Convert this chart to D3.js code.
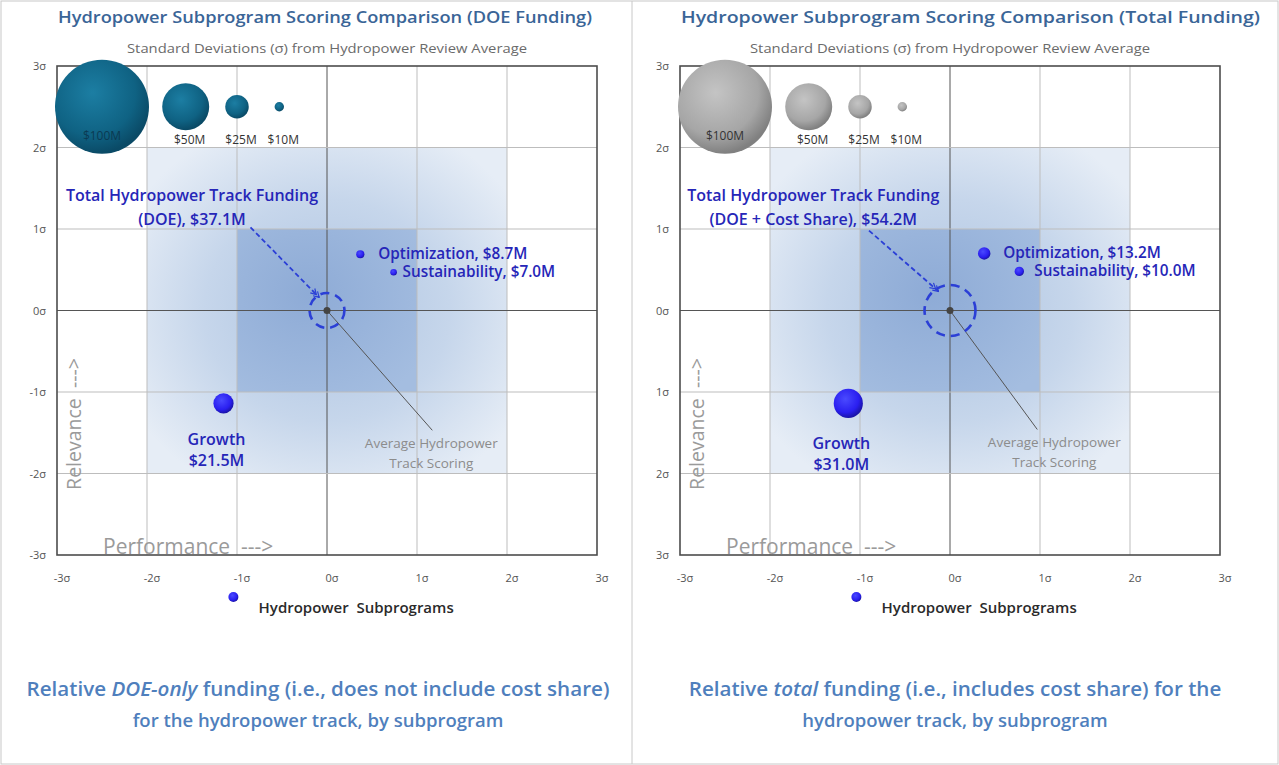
<!DOCTYPE html>
<html>
<head>
<meta charset="utf-8">
<title>Hydropower Subprogram Scoring Comparison</title>
<style>
  body { margin: 0; background: #fff; }
  svg { display: block; font-family: "Open Sans", Lato, sans-serif; }
</style>
</head>
<body>
<svg id="chart" width="1279" height="765"></svg>
<script src="https://d3js.org/d3.v7.min.js"></script>
<script>
// ---- data ----
const sigmaTicks = [-3, -2, -1, 0, 1, 2, 3];
const xTickLabels = ["-3σ", "-2σ", "-1σ", "0σ", "1σ", "2σ", "3σ"];
const yTickLabelsDoe = ["-3σ", "-2σ", "-1σ", "0σ", "1σ", "2σ", "3σ"];
const yTickLabelsTotal = ["3σ", "2σ", "1σ", "0σ", "1σ", "2σ", "3σ"];

const subprograms = ["Optimization", "Sustainability", "Growth"];

const doePerformance = [0.37, 0.74, -1.15];
const doeRelevance = [0.69, 0.47, -1.14];
const doeFunding = [8.7, 7.0, 21.5];
const doeFundingLabels = ["$8.7M", "$7.0M", "$21.5M"];
const doeTrackFunding = 37.1;

const totalPerformance = [0.38, 0.77, -1.13];
const totalRelevance = [0.70, 0.48, -1.14];
const totalFunding = [13.2, 10.0, 31.0];
const totalFundingLabels = ["$13.2M", "$10.0M", "$31.0M"];
const totalTrackFunding = 54.2;

const sizeLegendValues = [100, 50, 25, 10];
const sizeLegendLabels = ["$100M", "$50M", "$25M", "$10M"];
const sizeLegendX = [-2.5, -1.57, -1.0, -0.53];
const sizeLegendY = 2.5;

const svg = d3.select("#chart");
const defs = svg.append("defs");

// bubble gradients
function radial(id, stops) {
  const g = defs.append("radialGradient").attr("id", id)
    .attr("cx", "40%").attr("cy", "35%").attr("r", "65%");
  stops.forEach(([o, c]) => g.append("stop").attr("offset", o).attr("stop-color", c));
}
radial("tealBubble", [["0%", "#1c7ea3"], ["70%", "#0f6283"], ["100%", "#0a4a66"]]);
radial("grayBubble", [["0%", "#c4c4c4"], ["70%", "#a6a6a6"], ["100%", "#808080"]]);
radial("blueBubble", [["0%", "#4a4aff"], ["70%", "#2a1ff0"], ["100%", "#1a14a8"]]);

const outerShade = defs.append("radialGradient").attr("id", "outerShade")
  .attr("cx", "50%").attr("cy", "50%").attr("r", "62%");
outerShade.append("stop").attr("offset", "0%").attr("stop-color", "#aec4e1");
outerShade.append("stop").attr("offset", "55%").attr("stop-color", "#c6d6eb");
outerShade.append("stop").attr("offset", "100%").attr("stop-color", "#e6edf6");

const innerShade = defs.append("radialGradient").attr("id", "innerShade")
  .attr("cx", "40%").attr("cy", "40%").attr("r", "75%");
innerShade.append("stop").attr("offset", "0%").attr("stop-color", "#8eabd6");
innerShade.append("stop").attr("offset", "100%").attr("stop-color", "#a4bde0");

defs.append("marker").attr("id", "arrowHead")
  .attr("viewBox", "0 0 14 10").attr("refX", 13).attr("refY", 5)
  .attr("markerWidth", 11).attr("markerHeight", 8)
  .attr("orient", "auto").attr("markerUnits", "userSpaceOnUse")
  .append("path").attr("d", "M1,1 L8,5 L1,9 M6,1 L13,5 L6,9")
  .attr("fill", "none").attr("stroke", "#2b3fd6").attr("stroke-width", 1.5);

// outer frame + divider
svg.append("rect").attr("x", 1).attr("y", 1).attr("width", 1277).attr("height", 763)
  .attr("fill", "none").attr("stroke", "#c8c8c8");
svg.append("line").attr("x1", 632).attr("x2", 632).attr("y1", 1).attr("y2", 764)
  .attr("stroke", "#c8c8c8");

const labelBlue = "#2626b8";

function drawPanel(p) {
  const x = d3.scaleLinear().domain([-3, 3]).range([p.left, p.left + 540]);
  const y = d3.scaleLinear().domain([-3, 3]).range([555, 66]);
  const r = d3.scaleLinear().domain([0, 100]).range([0, 47]);
  const g = svg.append("g");

  // titles
  g.append("text").attr("x", p.left + 1).attr("y", 23)
    .attr("font-size", 17).attr("font-weight", 600).attr("fill", "#3a6597")
    .attr("textLength", p.titleWidth).attr("lengthAdjust", "spacingAndGlyphs")
    .text(p.title);
  g.append("text").attr("x", x(0)).attr("y", 53).attr("text-anchor", "middle")
    .attr("font-size", 12.5).attr("fill", "#6b6b6b")
    .attr("textLength", 400).attr("lengthAdjust", "spacingAndGlyphs")
    .text("Standard Deviations (σ) from Hydropower Review Average");

  // shaded scoring bands
  g.append("rect").attr("x", x(-2)).attr("y", y(2))
    .attr("width", x(2) - x(-2)).attr("height", y(-2) - y(2))
    .attr("fill", "url(#outerShade)");
  g.append("rect").attr("x", x(-1)).attr("y", y(1))
    .attr("width", x(1) - x(-1)).attr("height", y(-1) - y(1))
    .attr("fill", "url(#innerShade)");

  // grid
  g.selectAll(".vgrid").data(sigmaTicks.filter(t => Math.abs(t) < 3)).enter()
    .append("line")
    .attr("x1", d => x(d)).attr("x2", d => x(d)).attr("y1", y(3)).attr("y2", y(-3))
    .attr("stroke", d => d === 0 ? "#555" : "#bdbdbd").attr("stroke-width", 1);
  g.selectAll(".hgrid").data(sigmaTicks.filter(t => Math.abs(t) < 3)).enter()
    .append("line")
    .attr("y1", d => y(d)).attr("y2", d => y(d)).attr("x1", x(-3)).attr("x2", x(3))
    .attr("stroke", d => d === 0 ? "#555" : "#bdbdbd").attr("stroke-width", 1);

  // plot border
  g.append("rect").attr("x", x(-3)).attr("y", y(3))
    .attr("width", x(3) - x(-3)).attr("height", y(-3) - y(3))
    .attr("fill", "none").attr("stroke", "#4d4d4d").attr("stroke-width", 1.6);

  // tick labels
  g.selectAll(".xt").data(sigmaTicks).enter().append("text")
    .attr("x", d => x(d) + 5).attr("y", 582).attr("text-anchor", "middle")
    .attr("font-size", 11).attr("fill", "#555")
    .text((d, i) => xTickLabels[i]);
  g.selectAll(".yt").data(sigmaTicks).enter().append("text")
    .attr("x", p.left - 11).attr("y", d => y(d) + 4).attr("text-anchor", "end")
    .attr("font-size", 11).attr("fill", "#555")
    .text((d, i) => p.yLabels[i]);

  // axis titles
  g.append("text").attr("x", p.left + 46).attr("y", 554)
    .attr("font-size", 21).attr("fill", "#9a9a9a")
    .attr("xml:space", "preserve")
    .text("Performance  --->");
  g.append("text").attr("transform", `translate(${p.left + 24},424) rotate(-90)`)
    .attr("text-anchor", "middle").attr("font-size", 19.5).attr("fill", "#9a9a9a")
    .attr("xml:space", "preserve")
    .text("Relevance  --->");

  // size legend
  sizeLegendValues.forEach((v, i) => {
    g.append("circle").attr("cx", x(sizeLegendX[i])).attr("cy", y(sizeLegendY))
      .attr("r", r(v)).attr("fill", p.legendFill);
    const ly = i === 0 ? y(sizeLegendY) + 33 : y(sizeLegendY) + 37;
    g.append("text").attr("x", x(sizeLegendX[i]) + (i === 0 ? 0 : 4)).attr("y", ly)
      .attr("text-anchor", "middle").attr("font-size", 12)
      .attr("fill", i === 0 ? p.legendTextIn : "#333")
      .text(sizeLegendLabels[i]);
  });

  // average line + label
  g.append("line").attr("x1", x(0)).attr("y1", y(0))
    .attr("x2", x(p.avgEnd[0])).attr("y2", y(p.avgEnd[1]))
    .attr("stroke", "#555").attr("stroke-width", 1);
  g.append("text").attr("text-anchor", "middle")
    .attr("font-size", 13.5).attr("fill", "#8c8c8c")
    .selectAll("tspan").data(["Average Hydropower", "Track Scoring"]).enter()
    .append("tspan").attr("x", x(p.avgEnd[0]) + p.avgDx)
    .attr("y", (d, i) => y(p.avgEnd[1]) + 18 + i * 20).text(d => d);

  // track total (dashed circle)
  g.append("circle").attr("cx", x(0)).attr("cy", y(0)).attr("r", r(p.track))
    .attr("fill", "none").attr("stroke", "#2b3fd6").attr("stroke-width", 2.6)
    .attr("stroke-dasharray", "9,6");
  g.append("circle").attr("cx", x(0)).attr("cy", y(0)).attr("r", 3.5).attr("fill", "#444");

  // annotation
  g.append("text").attr("text-anchor", "middle").attr("font-size", 16)
    .attr("font-weight", 600).attr("fill", labelBlue)
    .selectAll("tspan").data(p.trackLabel).enter().append("tspan")
    .attr("x", x(p.trackLabelX)).attr("y", (d, i) => 201 + i * 24).text(d => d);
  g.append("line").attr("x1", x(p.arrow[0])).attr("y1", y(p.arrow[1]))
    .attr("x2", x(0) - r(p.track) * 0.45).attr("y2", y(0) - r(p.track) * 0.75)
    .attr("stroke", "#2b3fd6").attr("stroke-width", 1.8)
    .attr("stroke-dasharray", "5,3").attr("marker-end", "url(#arrowHead)");

  // subprogram bubbles
  subprograms.forEach((name, i) => {
    const cx = x(p.perf[i]), cy = y(p.rel[i]), rr = r(p.funding[i]);
    g.append("circle").attr("cx", cx).attr("cy", cy).attr("r", rr)
      .attr("fill", "url(#blueBubble)");
    if (name === "Growth") {
      g.append("text").attr("text-anchor", "middle").attr("font-size", 16)
        .attr("font-weight", 600).attr("fill", labelBlue)
        .selectAll("tspan").data([name, p.fundingLabels[i]]).enter().append("tspan")
        .attr("x", cx - 7).attr("y", (d, k) => cy + rr + 31 + k * 21).text(d => d);
    } else {
      g.append("text").attr("x", cx + p.labelDx[i]).attr("y", cy + 5)
        .attr("font-size", 15.3).attr("font-weight", 600).attr("fill", labelBlue)
        .text(`${name}, ${p.fundingLabels[i]}`);
    }
  });

  // series legend
  g.append("circle").attr("cx", x(-1.04)).attr("cy", 597).attr("r", 5)
    .attr("fill", "url(#blueBubble)");
  g.append("text").attr("x", x(-0.76)).attr("y", 613)
    .attr("font-size", 15).attr("font-weight", 600).attr("fill", "#2a2a2a")
    .attr("xml:space", "preserve")
    .text("Hydropower  Subprograms");

  // caption
  const cap = g.append("text").attr("text-anchor", "middle")
    .attr("font-weight", 600).attr("fill", "#4f7fbd");
  p.caption.forEach((line, k) => {
    const t = cap.append("tspan").attr("x", p.capX).attr("y", 696 + k * 31)
      .attr("font-size", k === 0 ? 20.6 : 18.5);
    line.forEach(([s, it]) => {
      t.append("tspan").attr("font-style", it ? "italic" : null).text(s);
    });
  });
}

drawPanel({
  left: 57,
  title: "Hydropower Subprogram Scoring Comparison (DOE Funding)",
  titleWidth: 534,
  yLabels: yTickLabelsDoe,
  legendFill: "url(#tealBubble)",
  legendTextIn: "#0b3a52",
  perf: doePerformance, rel: doeRelevance,
  funding: doeFunding, fundingLabels: doeFundingLabels,
  labelDx: [18, 9],
  track: doeTrackFunding,
  trackLabel: ["Total Hydropower Track Funding", "(DOE), $37.1M"],
  trackLabelX: -1.5,
  arrow: [-0.85, 1.02],
  avgEnd: [1.17, -1.47], avgDx: -1,
  capX: 318,
  caption: [[["Relative ", false], ["DOE-only", true], [" funding (i.e., does not include cost share)", false]],
            [["for the hydropower track, by subprogram", false]]]
});

drawPanel({
  left: 680,
  title: "Hydropower Subprogram Scoring Comparison (Total Funding)",
  titleWidth: 579,
  yLabels: yTickLabelsTotal,
  legendFill: "url(#grayBubble)",
  legendTextIn: "#333",
  perf: totalPerformance, rel: totalRelevance,
  funding: totalFunding, fundingLabels: totalFundingLabels,
  labelDx: [19, 15],
  track: totalTrackFunding,
  trackLabel: ["Total Hydropower Track Funding", "(DOE + Cost Share), $54.2M"],
  trackLabelX: -1.52,
  arrow: [-0.9, 0.98],
  avgEnd: [0.97, -1.46], avgDx: 17,
  capX: 955,
  caption: [[["Relative ", false], ["total", true], [" funding (i.e., includes cost share) for the", false]],
            [["hydropower track, by subprogram", false]]]
});
</script>
</body>
</html>
